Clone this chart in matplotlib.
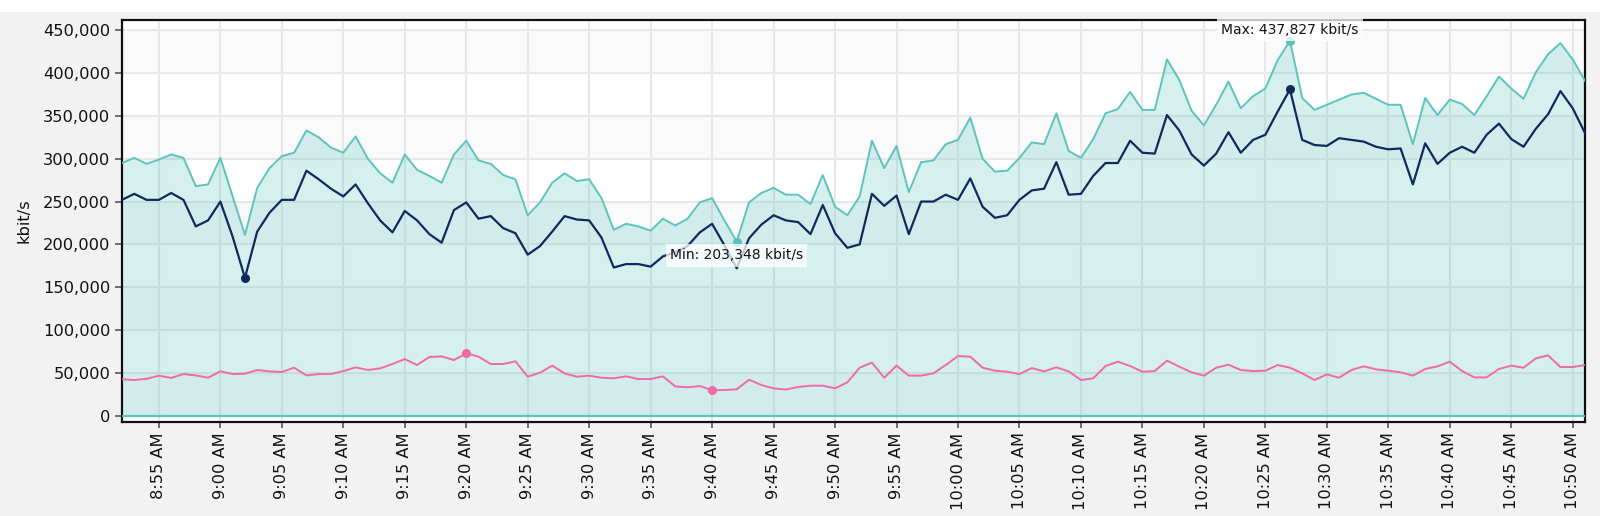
import matplotlib
matplotlib.use("Agg")
import matplotlib.pyplot as plt
import matplotlib.dates as mdates
from matplotlib.ticker import FuncFormatter
from matplotlib.patches import Rectangle
import numpy as np
import datetime as dt

# ---- data (kbit/s, in thousands) ----
start_time = dt.datetime(2024, 1, 1, 8, 52)
teal_k = [295, 301, 294, 299, 305, 301, 268, 270, 301, 256, 211, 266, 289, 303, 307, 333, 325, 313, 307, 326,
          300, 283, 272, 305, 287, 280, 272, 305, 321, 298, 294, 281, 276, 234, 249, 272, 283, 274, 276, 254,
          217, 224, 221, 216, 230, 222, 230, 249, 254, 228, 203.348, 249, 260, 266, 258, 258, 247, 281, 244, 234,
          256, 321, 289, 315, 261, 296, 298, 317, 322, 348, 300, 285, 286, 301, 319, 317, 353, 309, 301, 323,
          353, 358, 378, 357, 357, 416, 392, 356, 339, 363, 390, 359, 373, 382, 415, 437.827, 371, 357, 363, 369,
          375, 377, 370, 363, 363, 317, 371, 351, 369, 364, 351, 373, 396, 382, 370, 401, 422, 435, 416, 391]
navy_k = [252, 259, 252, 252, 260, 252, 221, 228, 250, 209, 161, 215, 237, 252, 252, 286, 276, 265, 256, 270,
          248, 228, 214, 239, 228, 212, 202, 240, 249, 230, 233, 219, 213, 188, 198, 215, 233, 229, 228, 208,
          173, 177, 177, 174, 186, 191, 198, 214, 224, 199, 172, 207, 223, 234, 228, 226, 212, 246, 213, 196,
          200, 259, 245, 257, 212, 250, 250, 258, 252, 277, 244, 231, 234, 252, 263, 265, 296, 258, 259, 280,
          295, 295, 321, 307, 306, 351, 333, 305, 292, 306, 331, 307, 322, 328, 355, 381, 322, 316, 315, 324,
          322, 320, 314, 311, 312, 270, 318, 294, 307, 314, 307, 328, 341, 323, 314, 335, 352, 379, 359, 330]
pink_k = [42.4, 41.6, 43, 46.7, 44, 48.6, 47, 44.3, 51.7, 48.6, 49, 53.3, 51.7, 51, 56, 47, 48.6, 48.6, 52, 56.4,
          53.3, 55.2, 60.3, 66.1, 59.1, 68.5, 69.2, 65, 72.7, 68.9, 60.3, 60.3, 63.4, 45.5, 50.2, 58.4, 49.4, 45.5, 46.7, 44.3,
          43.6, 45.9, 42.8, 42.8, 45.9, 34.2, 33.1, 34.6, 29.6, 30, 30.7, 42, 35.8, 31.9, 30.5, 33.5, 35, 35, 31.9, 38.9,
          56, 61.9, 44.3, 58.4, 46.7, 46.7, 49.4, 59.1, 69.6, 68.9, 56, 52.5, 51.3, 48.6, 55.6, 51.7, 56.4, 51.7, 41.6, 43.6,
          58, 63, 58, 51.3, 52.1, 64.2, 57.2, 50.6, 46.7, 56, 59.5, 53.3, 52.1, 52.5, 59.1, 56, 49.4, 41.6, 48.2, 44.3,
          53.3, 57.6, 54.1, 52.5, 50.6, 46.7, 54.5, 57.6, 63, 52.1, 44.7, 44.7, 54.5, 58.4, 56, 66.9, 70.4, 56.8, 56.8, 59.1]
y_ticks = [0, 50000, 100000, 150000, 200000, 250000, 300000, 350000, 400000, 450000]
y_label = "kbit/s"

teal = np.array(teal_k) * 1000
navy = np.array(navy_k) * 1000
pink = np.array(pink_k) * 1000
times = [start_time + dt.timedelta(minutes=i) for i in range(len(teal))]
xn = mdates.date2num(times)

C_TEAL = "#5cc4bf"
C_NAVY = "#0e2a5e"
C_PINK = "#f06aa6"

fig = plt.figure(figsize=(16, 5.16), dpi=100, facecolor="white")
fig.patches.append(Rectangle((0, 0), 1, 1 - 12 / 516, transform=fig.transFigure,
                             facecolor="#f2f2f2", edgecolor="none", zorder=-10))
ax = fig.add_axes([122 / 1600, 94 / 516, (1585 - 122) / 1600, (496 - 94) / 516])
ax.set_facecolor("white")

# alternating bands
for lo in range(0, 500000, 100000):
    ax.axhspan(lo, lo + 50000, color="#fafafa", zorder=0, lw=0)

ax.grid(True, color="#e8e8e8", lw=1.5, zorder=1)
ax.set_axisbelow(True)

ax.fill_between(xn, teal, 0, color=C_TEAL, alpha=0.25, lw=0, zorder=2)
ax.axhline(0, color=C_TEAL, lw=1.6, zorder=3)
ax.plot(xn, teal, color=C_TEAL, lw=1.4, zorder=4)
ax.plot(xn, navy, color=C_NAVY, lw=1.6, zorder=5)
ax.plot(xn, pink, color=C_PINK, lw=1.4, zorder=4)

for arr, c in [(teal, C_TEAL), (navy, C_NAVY), (pink, C_PINK)]:
    for idx in (int(np.argmin(arr)), int(np.argmax(arr))):
        ax.plot(xn[idx], arr[idx], "o", color=c, ms=5.5, zorder=6, clip_on=False)

imin, imax = int(np.argmin(teal)), int(np.argmax(teal))
box = dict(boxstyle="square,pad=0.3", facecolor="white", edgecolor="none", alpha=0.75)
ax.annotate(f"Min: {teal[imin]:,.0f} kbit/s", (xn[imin], teal[imin]), xytext=(0, -10),
            textcoords="offset points", ha="center", va="center", fontsize=10, color="#111",
            bbox=box, zorder=7, annotation_clip=False)
ax.annotate(f"Max: {teal[imax]:,.0f} kbit/s", (xn[imax], teal[imax]), xytext=(0, 8),
            textcoords="offset points", ha="center", va="center", fontsize=10, color="#111",
            bbox=box, zorder=7, annotation_clip=False)

ax.set_xlim(xn[0], xn[-1])
ax.set_ylim(-7400, 462000)
ax.set_yticks(y_ticks)
ax.yaxis.set_major_formatter(FuncFormatter(lambda v, p: f"{int(v):,}"))
ax.xaxis.set_major_locator(mdates.MinuteLocator(byminute=range(0, 60, 5)))


def fmt_time(v, p):
    d = mdates.num2date(v)
    h = d.hour % 12 or 12
    return f"{h}:{d.minute:02d} {'AM' if d.hour < 12 else 'PM'}"


ax.xaxis.set_major_formatter(FuncFormatter(fmt_time))
plt.setp(ax.get_xticklabels(), rotation=90)
ax.tick_params(axis="y", labelsize=11.7, length=5, width=1.2, color="#555", labelcolor="#111")
ax.tick_params(axis="x", labelsize=11.7, length=4, width=1.2, color="#555", labelcolor="#111")
ax.set_ylabel(y_label, fontsize=11.7, color="#111", labelpad=8)

for s in ax.spines.values():
    s.set_color("#111")
    s.set_linewidth(1.6)

fig.savefig("out.png", dpi=100, facecolor=fig.get_facecolor())
